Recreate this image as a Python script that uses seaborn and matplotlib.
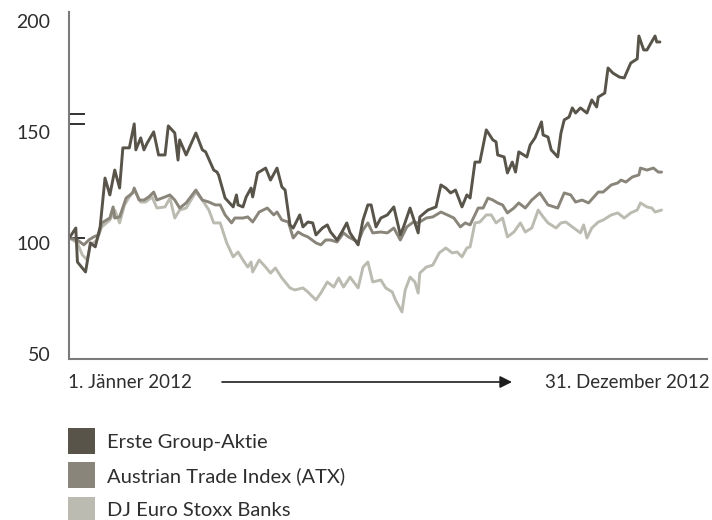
import numpy as np
import pandas as pd
import matplotlib.pyplot as plt
from matplotlib.patches import Patch
from matplotlib.transforms import ScaledTranslation
import seaborn as sns

# day of year 2012 -> index value
erste_days = [0, 4, 5, 10, 13, 16, 19, 22, 25, 28, 31, 33, 37, 40, 41, 44, 46, 48, 52, 55,
              59, 61, 65, 67, 68, 72, 78, 82, 84, 89, 91, 92, 96, 101, 103, 104, 107, 109, 112, 113,
              116, 121, 124, 128, 131, 133, 136, 138, 142, 144, 147, 150, 152, 156, 159, 161, 165, 168, 171, 173,
              178, 181, 184, 186, 189, 192, 196, 200, 204, 206, 210, 215, 216, 221, 226, 229, 232, 235, 238, 242,
              245, 247, 250, 253, 257, 261, 263, 264, 268, 270, 273, 275, 277, 282, 284, 287, 291, 292, 295, 297,
              301, 303, 305, 308, 310, 312, 315, 319, 322, 325, 326, 330, 332, 335, 339, 342, 346, 350, 351, 354,
              356, 361, 362, 364]
erste_vals = [104.5, 109.0, 93.7, 89.2, 102.3, 100.5, 109.5, 131.5, 123.9, 135.1, 127.0, 145.1, 145.1, 155.9, 144.2, 149.6, 144.2, 147.3, 152.3, 141.9,
              141.9, 155.0, 151.8, 139.6, 148.7, 141.9, 151.8, 144.2, 143.3, 135.1, 134.2, 132.9, 122.5, 118.5, 123.9, 119.4, 118.5, 123.0, 127.0, 123.0,
              133.8, 136.0, 130.6, 136.0, 127.5, 126.1, 110.4, 109.0, 114.9, 109.5, 111.7, 111.3, 105.9, 109.0, 110.4, 107.2, 103.6, 107.2, 111.3, 106.8,
              101.4, 112.6, 119.4, 119.4, 109.5, 113.5, 114.9, 118.5, 105.9, 109.5, 118.0, 106.8, 114.0, 117.1, 118.5, 128.4, 127.0, 124.8, 126.1, 118.5,
              123.9, 122.5, 138.7, 138.7, 153.2, 148.7, 147.8, 141.9, 141.0, 133.8, 138.7, 134.2, 143.3, 141.0, 146.4, 149.6, 156.8, 150.9, 150.0, 144.2,
              141.0, 151.8, 157.7, 159.0, 163.1, 160.8, 163.1, 160.8, 166.7, 163.5, 168.0, 169.8, 181.1, 178.8, 177.0, 176.6, 183.3, 185.2, 195.5, 189.2,
              189.2, 195.5, 192.8, 192.8]

atx_days = [0, 5, 9, 12, 15, 18, 20, 25, 27, 28, 31, 35, 39, 40, 43, 46, 49, 52, 54, 59,
            62, 65, 68, 72, 78, 82, 86, 90, 93, 96, 100, 102, 107, 110, 113, 117, 122, 126, 128, 131,
            135, 138, 141, 144, 147, 152, 155, 158, 161, 165, 169, 172, 178, 181, 184, 187, 192, 196, 200, 204,
            208, 212, 215, 220, 224, 229, 233, 237, 241, 244, 247, 252, 255, 258, 261, 264, 267, 270, 274, 277,
            281, 285, 290, 295, 301, 305, 309, 312, 316, 320, 326, 329, 334, 338, 340, 343, 347, 351, 352, 356,
            360, 363, 365]
atx_vals = [104.5, 103.6, 101.4, 103.6, 105.0, 105.9, 111.3, 113.5, 118.5, 113.5, 114.0, 122.5, 124.8, 127.0, 121.6, 121.6, 123.0, 125.2, 121.6, 123.0,
            123.9, 121.6, 118.0, 120.3, 126.1, 121.6, 120.7, 119.4, 119.4, 114.9, 111.3, 113.5, 113.5, 114.0, 111.7, 116.2, 118.0, 114.9, 116.2, 112.6,
            111.7, 104.5, 107.2, 105.9, 105.0, 102.3, 101.4, 103.6, 103.6, 102.7, 106.8, 105.0, 102.7, 108.1, 111.3, 106.8, 107.2, 106.8, 109.0, 103.6,
            109.5, 111.7, 111.3, 113.5, 114.0, 116.2, 114.9, 113.5, 109.5, 111.3, 110.4, 118.0, 118.0, 122.5, 121.6, 120.3, 119.4, 115.8, 118.0, 120.3,
            118.0, 121.6, 124.8, 119.4, 118.0, 124.8, 123.9, 120.7, 121.6, 120.3, 125.2, 125.2, 128.4, 129.3, 130.6, 129.7, 132.0, 132.9, 136.0, 135.1,
            136.0, 134.2, 134.2]

banks_days = [0, 5, 8, 11, 13, 17, 20, 25, 28, 31, 34, 37, 40, 44, 47, 51, 54, 59, 62, 65,
              68, 72, 78, 82, 86, 89, 93, 97, 101, 104, 107, 110, 112, 113, 117, 121, 124, 127, 131, 136,
              139, 144, 147, 152, 155, 159, 163, 166, 169, 173, 178, 181, 184, 187, 192, 195, 199, 201, 205, 207,
              210, 213, 215, 216, 220, 224, 228, 232, 236, 239, 242, 245, 247, 250, 253, 257, 260, 263, 267, 270,
              274, 278, 281, 285, 289, 292, 295, 300, 303, 306, 310, 315, 317, 319, 322, 326, 329, 334, 338, 342,
              346, 350, 352, 356, 359, 361, 365]
banks_vals = [104.5, 102.3, 96.9, 94.6, 101.4, 103.6, 109.5, 112.6, 117.1, 111.3, 119.4, 123.0, 126.1, 120.7, 120.7, 123.0, 118.0, 118.5, 122.5, 113.5,
              117.1, 118.0, 125.2, 121.6, 117.1, 111.3, 111.3, 102.3, 96.0, 98.2, 94.6, 91.4, 93.7, 89.2, 94.6, 91.4, 88.7, 91.0, 86.5, 82.0,
              81.1, 82.0, 80.2, 76.6, 79.7, 84.7, 82.4, 86.5, 82.4, 86.9, 82.0, 91.4, 93.7, 84.7, 85.6, 82.0, 80.2, 76.6, 71.2, 81.1,
              86.9, 84.7, 79.7, 88.7, 91.4, 92.3, 97.8, 100.0, 97.8, 98.2, 96.0, 100.0, 100.5, 111.3, 111.7, 114.9, 114.9, 111.3, 113.5, 105.0,
              107.2, 111.3, 107.2, 109.0, 117.1, 114.0, 111.3, 109.0, 111.3, 111.7, 109.5, 106.8, 110.4, 104.5, 109.0, 111.7, 112.6, 114.9, 115.8, 113.5,
              115.8, 117.1, 120.3, 118.5, 118.0, 116.2, 117.1]

labels = ['Erste Group-Aktie', 'Austrian Trade Index (ATX)', 'DJ Euro Stoxx Banks']
colors = ['#58544a', '#8a857a', '#bcbbb1']

df = pd.concat([
    pd.DataFrame({'day': erste_days, 'value': erste_vals, 'series': labels[0]}),
    pd.DataFrame({'day': atx_days, 'value': atx_vals, 'series': labels[1]}),
    pd.DataFrame({'day': banks_days, 'value': banks_vals, 'series': labels[2]}),
])

sns.set_theme(style='white')
plt.rcParams['font.family'] = ['Lato', 'DejaVu Sans']
txt_col = '#2e2e2e'

fig = plt.figure(figsize=(7.12, 5.2), dpi=100)
ax = fig.add_axes([68.5 / 712, 1 - 359 / 520, (707 - 68.5) / 712, (359 - 12) / 520])

# draw lightest first so the Erste line sits on top
for name, col in reversed(list(zip(labels, colors))):
    sns.lineplot(data=df[df.series == name], x='day', y='value', color=col,
                 lw=2.1, estimator=None, sort=False, ax=ax)

ax.set_xlim(-0.5, 393)
ax.set_ylim(50, 206.3)
ax.set_xticks([])
ax.set_yticks([50, 100, 150, 200])
ax.set_xlabel('')
ax.set_ylabel('')
ax.tick_params(axis='y', which='major', length=0, pad=13, labelsize=14, labelcolor=txt_col)
shift = ScaledTranslation(0, 5 / 100, fig.dpi_scale_trans)
for lab in ax.get_yticklabels():
    lab.set_transform(lab.get_transform() + shift)

# the little marks on the axis
ax.set_yticks([104.5, 155.9, 160.3], minor=True)
ax.tick_params(axis='y', which='minor', left=True, direction='in', length=11.5, width=1.3,
               color='#222222')
ax.yaxis.get_minor_ticks()[1].tick1line.set_color('#7b7b7b')

sns.despine(ax=ax)
for s in ['left', 'bottom']:
    ax.spines[s].set_color('#7b7b7b')
    ax.spines[s].set_linewidth(1.5)

# time arrow under the axis
fig.text(68 / 712, 1 - 383 / 520, '1. Jänner 2012', ha='left', va='center', fontsize=13.5, color=txt_col)
fig.text(710 / 712, 1 - 383 / 520, '31. Dezember 2012', ha='right', va='center', fontsize=13.5, color=txt_col)
ax.annotate('', xy=(512 / 712, 1 - 382 / 520), xytext=(222 / 712, 1 - 382 / 520),
            xycoords='figure fraction', textcoords='figure fraction', annotation_clip=False,
            arrowprops=dict(arrowstyle='-|>', color='#1e1e1e', lw=1.2, mutation_scale=18, shrinkA=0, shrinkB=0))

handles = [Patch(facecolor=c, edgecolor='none') for c in colors]
fig.legend(handles, labels, loc='upper left', bbox_to_anchor=(68 / 712, 1 - 428 / 520),
           frameon=False, fontsize=14.5, labelcolor=txt_col, borderpad=0, borderaxespad=0,
           handlelength=1.33, handleheight=1.6, handletextpad=0.62, labelspacing=0.42)

fig.savefig('out.png', dpi=100)
